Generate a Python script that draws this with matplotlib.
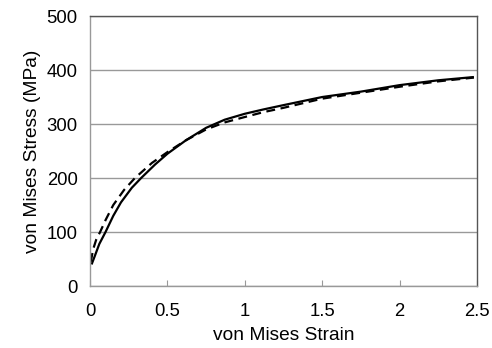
import matplotlib
matplotlib.use("Agg")
import matplotlib.pyplot as plt
import numpy as np

plt.rcParams['font.family'] = ['Liberation Sans', 'DejaVu Sans']

# curva solida
strain_a = [0.01, 0.03, 0.06, 0.1, 0.15, 0.2, 0.27, 0.33, 0.42, 0.5, 0.62, 0.75, 0.87, 1.0, 1.12, 1.25, 1.5, 1.75, 2.0, 2.25, 2.48]
stress_a = [40, 55, 78, 100, 130, 155, 182, 200, 225, 245, 270, 293, 308, 319, 327, 335, 350, 360, 372, 381, 387]

# curva tracejada
strain_b = [0.005, 0.02, 0.04, 0.065, 0.1, 0.15, 0.22, 0.29, 0.4, 0.5, 0.62, 0.75, 0.87, 1.0, 1.12, 1.25, 1.5, 1.75, 2.0, 2.25, 2.48]
stress_b = [45, 68, 86, 100, 122, 150, 178, 200, 228, 248, 270, 290, 303, 313, 322, 330, 347, 358, 369, 379, 386]

xticks = [0, 0.5, 1, 1.5, 2, 2.5]
xlabels = ["0", "0.5", "1", "1.5", "2", "2.5"]
yticks = [0, 100, 200, 300, 400, 500]

fig = plt.figure(figsize=(4.92, 3.48), dpi=100)
ax = fig.add_axes([0.183, 0.178, 0.7865, 0.776])

ax.plot(strain_a, stress_a, color="black", lw=1.6, solid_capstyle="butt")
ax.plot(strain_b, stress_b, color="black", lw=1.6, ls=(0, (4, 2.5)))

ax.set_xlim(0, 2.5)
ax.set_ylim(0, 500)
ax.set_xticks(xticks)
ax.set_xticklabels(xlabels)
ax.set_yticks(yticks)
ax.grid(axis="y", color="#999999", lw=1)
ax.set_axisbelow(True)

for s in ["left", "bottom"]:
    ax.spines[s].set_color("#999999")
for s in ["top", "right"]:
    ax.spines[s].set_color("#555555")
for s in ax.spines.values():
    s.set_linewidth(1)

ax.tick_params(axis="x", direction="in", length=4, color="#999999", labelsize=13.3, pad=12)
ax.tick_params(axis="y", length=0, labelsize=13.3, pad=9)

ax.set_xlabel("von Mises Strain", fontsize=13.8, labelpad=5)
ax.set_ylabel("von Mises Stress (MPa)", fontsize=13.8, labelpad=4)

plt.savefig("out.png", dpi=100)
